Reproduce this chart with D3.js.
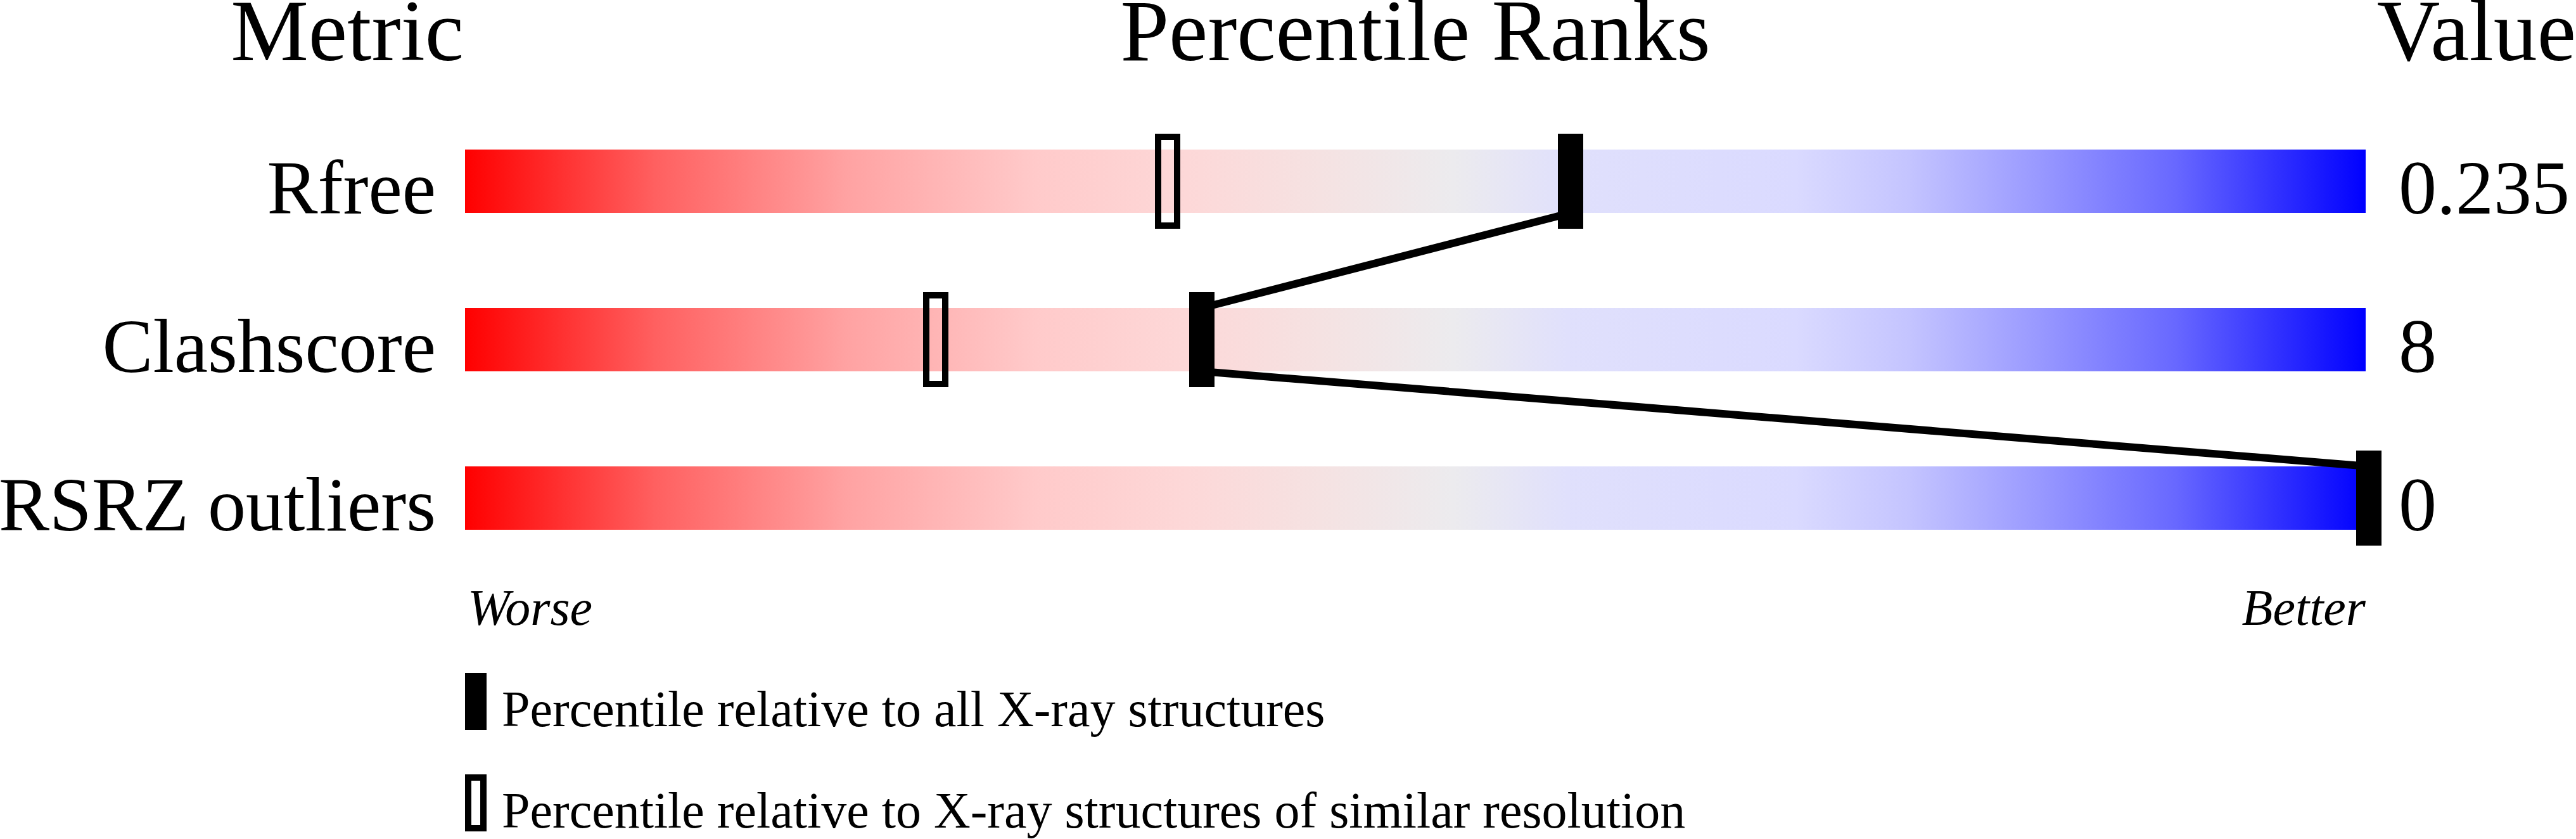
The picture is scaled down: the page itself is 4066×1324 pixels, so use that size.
<!DOCTYPE html>
<html>
<head>
<meta charset="utf-8">
<script src="https://cdn.jsdelivr.net/npm/d3@7"></script>
<style>
html, body { margin: 0; padding: 0; background: #ffffff; }
svg { display: block; }
</style>
</head>
<body>
<script>
// ---- data ----
const metrics = ["Rfree", "Clashscore", "RSRZ outliers"];
const values = ["0.235", "8", "0"];
const pctAll = [58, 38.6, 100];          // percentile relative to all X-ray structures
const pctSimilar = [36.8, 24.6, null];   // percentile relative to similar resolution
const headers = ["Metric", "Percentile Ranks", "Value"];
const endLabels = ["Worse", "Better"];
const legendLabels = ["Percentile relative to all X-ray structures",
                      "Percentile relative to X-ray structures of similar resolution"];
const gradStops = [
  [0, "#ff0000"], [10, "#ff6060"], [20, "#ffa2a2"], [30, "#ffcaca"],
  [38, "#fdd8d8"], [45, "#f5e2e2"], [52, "#ecebee"], [58, "#e0e0fc"],
  [70, "#dadaff"], [76, "#c4c4ff"], [82, "#9e9eff"], [90, "#6868ff"], [100, "#0000ff"]
];

// ---- layout ----
const W = 4066, H = 1324;
const barLeft = 734, barRight = 3734;
const markW = 40, markH = 150;
const font = "'Liberation Serif', 'Times New Roman', Times, serif";

const svg = d3.select("body").append("svg")
  .attr("width", W).attr("height", H)
  .style("font-family", font);

const x = d3.scaleLinear().domain([0, 100]).range([barLeft, barRight]);
const y = d3.scaleBand().domain(metrics).range([236, 836]).paddingInner(0.6).paddingOuter(0);
// band: step 250, bar height 100

const defs = svg.append("defs");
const grad = defs.append("linearGradient").attr("id", "g")
  .attr("x1", "0%").attr("x2", "100%").attr("y1", "0%").attr("y2", "0%");
grad.selectAll("stop").data(gradStops).join("stop")
  .attr("offset", d => d[0] + "%").attr("stop-color", d => d[1]);

// headers
svg.append("text").text(headers[0]).attr("x", 732).attr("y", 95)
  .attr("text-anchor", "end").attr("font-size", 138);
svg.append("text").text(headers[1]).attr("x", (barLeft + barRight) / 2).attr("y", 95)
  .attr("text-anchor", "middle").attr("font-size", 138);
svg.append("text").text(headers[2]).attr("x", W).attr("y", 95)
  .attr("text-anchor", "end").attr("font-size", 138);

// bars
svg.selectAll("rect.bar").data(metrics).join("rect").attr("class", "bar")
  .attr("x", barLeft).attr("width", barRight - barLeft)
  .attr("y", d => y(d)).attr("height", y.bandwidth())
  .attr("fill", "url(#g)");

// labels
svg.selectAll("text.lab").data(metrics).join("text").attr("class", "lab")
  .text(d => d).attr("x", 688).attr("y", d => y(d) + y.bandwidth() + 1)
  .attr("text-anchor", "end").attr("font-size", 120);

svg.selectAll("text.val").data(values).join("text").attr("class", "val")
  .text(d => d).attr("x", 3786).attr("y", (d, i) => y(metrics[i]) + y.bandwidth() + 1)
  .attr("text-anchor", "start").attr("font-size", 120);

const cx = p => x(p) + 5;

// similar-resolution (open) markers
const simData = metrics.map((m, i) => ({ m, p: pctSimilar[i] })).filter(d => d.p != null);
svg.selectAll("rect.sim").data(simData).join("rect").attr("class", "sim")
  .attr("x", d => cx(d.p) - markW / 2 + 5).attr("width", markW - 10)
  .attr("y", d => y(d.m) + y.bandwidth() / 2 - markH / 2 + 5).attr("height", markH - 10)
  .attr("fill", "none").attr("stroke", "#000").attr("stroke-width", 10);

// connecting line
const pts = [];
metrics.forEach((m, i) => {
  const c = cx(pctAll[i]);
  if (i > 0) pts.push([c, y(m)]);
  if (i < metrics.length - 1) pts.push([c, y(m) + y.bandwidth()]);
});
for (let k = 0; k < pts.length; k += 2) {
  svg.append("line")
    .attr("x1", pts[k][0]).attr("y1", pts[k][1])
    .attr("x2", pts[k + 1][0]).attr("y2", pts[k + 1][1])
    .attr("stroke", "#000").attr("stroke-width", 12);
}

// all-structures (filled) markers
svg.selectAll("rect.all").data(metrics).join("rect").attr("class", "all")
  .attr("x", (d, i) => cx(pctAll[i]) - markW / 2).attr("width", markW)
  .attr("y", d => y(d) + y.bandwidth() / 2 - markH / 2).attr("height", markH)
  .attr("fill", "#000");

// worse / better
svg.append("text").text(endLabels[0]).attr("x", barLeft + 4).attr("y", 986)
  .attr("font-style", "italic").attr("font-size", 80);
svg.append("text").text(endLabels[1]).attr("x", barRight).attr("y", 986)
  .attr("text-anchor", "end").attr("font-style", "italic").attr("font-size", 80);

// legend
svg.append("rect").attr("x", 734).attr("y", 1062).attr("width", 34).attr("height", 90).attr("fill", "#000");
svg.append("rect").attr("x", 739).attr("y", 1227).attr("width", 24).attr("height", 80)
  .attr("fill", "none").attr("stroke", "#000").attr("stroke-width", 10);
svg.append("text").text(legendLabels[0]).attr("x", 792).attr("y", 1146).attr("font-size", 80);
svg.append("text").text(legendLabels[1]).attr("x", 792).attr("y", 1306).attr("font-size", 80);
</script>
</body>
</html>
